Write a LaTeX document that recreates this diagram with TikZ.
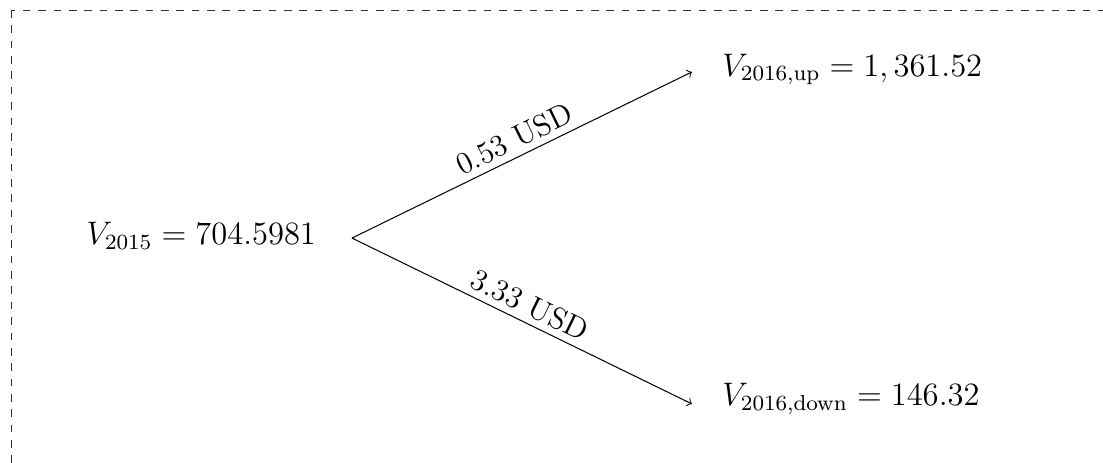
\documentclass[tikz,border=0pt]{standalone}
\begin{document}
\begin{tikzpicture}[x=1pt,y=1pt,
  val/.style={inner sep=0pt,anchor=base west,font=\large,scale=1.06,transform shape},
  lbl/.style={font=\large,sloped,above,midway,inner sep=2.5pt},
  branch/.style={->}]
\useasboundingbox (0,0) rectangle (430.9,-180.5);
\draw[dashed,line width=0.3pt,black!80] (4.3,-3.9) rectangle (445,-200);
\node[val] (v0) at (33.6,-95.7) {$V_{2015} = 704.5981$};
\node[val] (vu) at (282,-29.7) {$V_{2016,\mathrm{up}} = 1,361.52$};
\node[val] (vd) at (282,-158.6) {$V_{2016,\mathrm{down}} = 146.32$};
\coordinate (s) at (137.5,-93.0);
\coordinate (tu) at (270.3,-28.1);
\coordinate (td) at (270.3,-157.8);
\draw[branch] (s) -- node[lbl] {0.53 USD} (tu);
\draw[branch] (s) -- node[lbl] {3.33 USD} (td);
\end{tikzpicture}
\end{document}
